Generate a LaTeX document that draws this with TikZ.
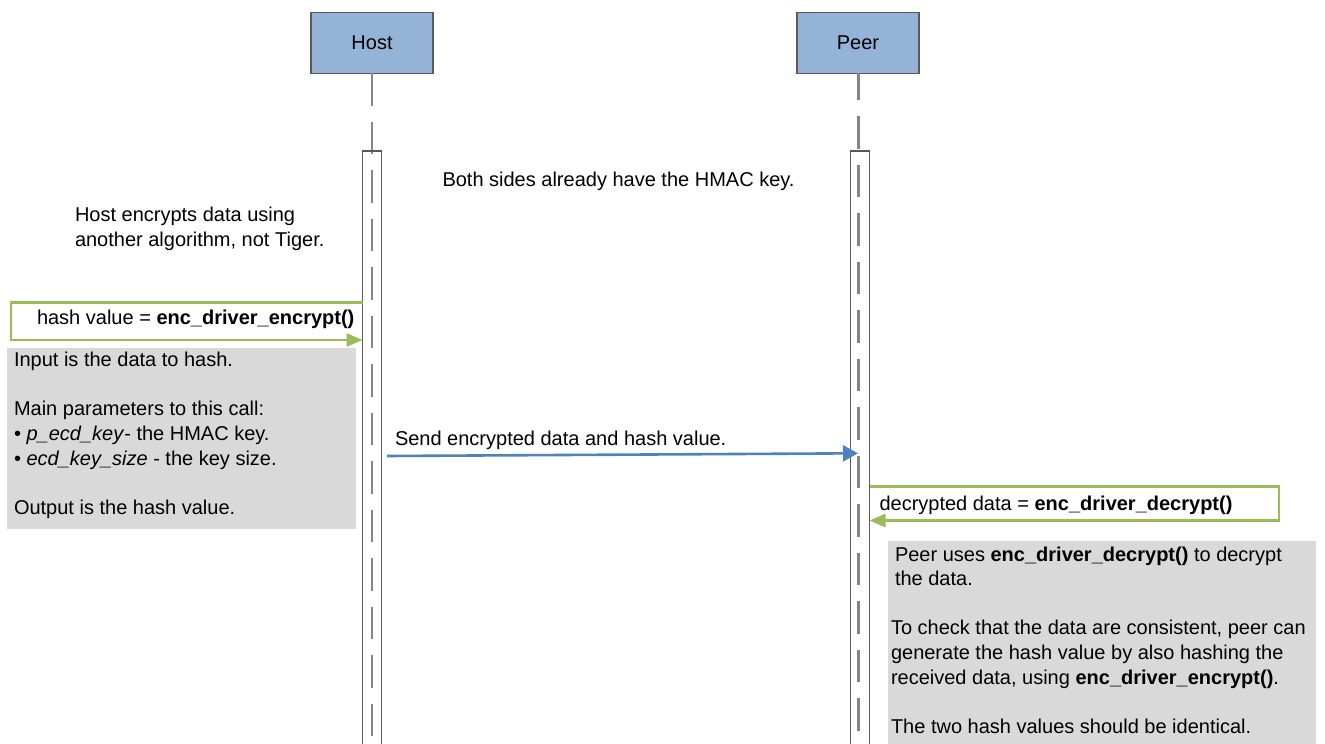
\documentclass[tikz,border=0pt]{standalone}
\usepackage{fontspec}
\setmainfont{Liberation Sans}
\usetikzlibrary{arrows.meta}
\definecolor{boxblue}{HTML}{95B3D7}
\definecolor{boxline}{HTML}{595959}
\definecolor{lifegray}{HTML}{858585}
\definecolor{notegray}{HTML}{D9D9D9}
\definecolor{callgreen}{HTML}{9BBB59}
\definecolor{msgblue}{HTML}{4F81BD}
\begin{document}
\begin{tikzpicture}[x=1pt,y=-1pt,
  every node/.style={font=\fontsize{20}{24.6}\selectfont, inner sep=0pt, outer sep=0pt},
  actor/.style={draw=boxline, line width=1.2pt, fill=boxblue, minimum width=122pt, minimum height=61pt},
  lifeline/.style={draw=lifegray, line width=2.6pt, dash pattern=on 32.5pt off 16pt},
  activation/.style={draw=boxline, line width=1.1pt, minimum width=19pt, anchor=north},
  selfcall/.style={draw=callgreen, line width=2.8pt, -{Triangle[length=16pt,width=13pt]}},
  message/.style={draw=msgblue, line width=2.6pt, -{Triangle[length=15pt,width=16pt]}},
  note/.style={fill=notegray, anchor=north west},
  txt/.style={anchor=base west, align=left},
]
\useasboundingbox (0,0) rectangle (1325,744);

% actors
\node[actor] (host) at (372,42.7) {Host};
\node[actor] (peer) at (858,42.7) {Peer};

% lifeline ends
\coordinate (hostend) at (372,760);
\coordinate (peerend) at (858.5,760);
\draw[lifeline] (host.south) -- (hostend);
\draw[lifeline, dash phase=5.5pt] (peer.south -| peerend) -- (peerend);

% activation bars
\node[activation, minimum height=610pt] (hostact) at (372,151) {};
\node[activation, minimum height=610pt] (peeract) at (860,151) {};

% free texts (multi-line nodes: base = last line's baseline)
\node[txt] (both) at (442.5,186) {Both sides already have the HMAC key.};
\node[txt] (hostenc) at (75,246.5) {Host encrypts data using\\another algorithm, not Tiger.};

% host self call
\coordinate (hc1) at (11,302.5);
\coordinate (hc2) at (11,340);
\draw[selfcall] (hostact.west |- hc1) -- (hc1) -- (hc2) -- (hostact.west |- hc2);
\node[txt] (hcl) at (37,324.5) {hash value = \textbf{enc\_driver\_encrypt()}};

% host note
\node[note, minimum width=349pt, minimum height=181pt] (hostnote) at (7,348) {};
\node[txt] (hostnotetxt) at (14,514.3) {Input is the data to hash.\\[24.6pt]Main parameters to this call:\\\textbullet\ \textit{p\_ecd\_key}- the HMAC key.\\\textbullet\ \textit{ecd\_key\_size} - the key size.\\[24.6pt]Output is the hash value.};

% message
\coordinate (ms) at (387,456);
\coordinate (me) at (858,453.3);
\draw[message] (ms) -- (me);
\node[txt] (msl) at (395,445) {Send encrypted data and hash value.};

% peer self call
\coordinate (pc1) at (1279,486.5);
\coordinate (pc2) at (1279,520.5);
\draw[selfcall] (peeract.east |- pc1) -- (pc1) -- (pc2) -- (peeract.east |- pc2);
\node[txt] (pcl) at (879.5,510) {decrypted data = \textbf{enc\_driver\_decrypt()}};

% peer note
\node[note, minimum width=428pt, minimum height=215pt] (peernote) at (888,541) {};
\node[txt] (peernote1) at (895,585.6) {Peer uses \textbf{enc\_driver\_decrypt()} to decrypt\\the data.};
\node[txt] (peernote2) at (891,733.2) {To check that the data are consistent, peer can\\generate the hash value by also hashing the\\received data, using \textbf{enc\_driver\_encrypt()}.\\[24.6pt]The two hash values should be identical.};
\end{tikzpicture}
\end{document}
